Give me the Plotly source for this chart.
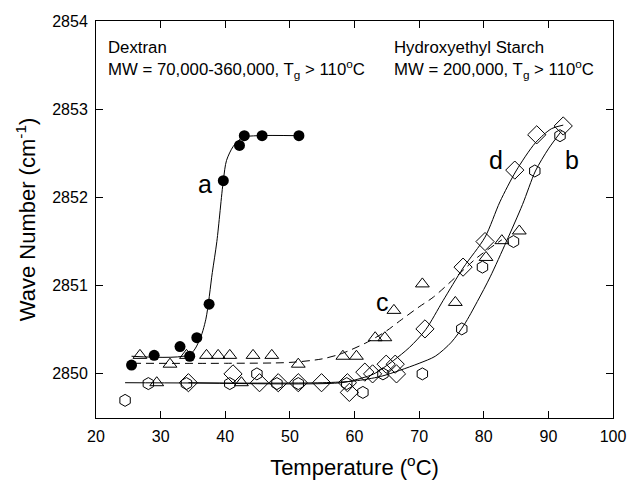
import plotly.graph_objects as go

# ---- data ----
# a: filled circles
a_x = [25.5, 29.0, 33.0, 34.5, 35.6, 37.5, 39.7, 42.2, 42.95, 45.7, 51.4]
a_y = [2850.10, 2850.21, 2850.31, 2850.20, 2850.41, 2850.79, 2852.19, 2852.59, 2852.70, 2852.70, 2852.70]
a_fit_x = [25.5, 34.5, 36.0, 37.0, 38.0, 38.7, 39.7, 40.2, 41.25, 42.7, 45.0, 51.4]
a_fit_y = [2850.20, 2850.22, 2850.38, 2850.62, 2851.15, 2851.50, 2852.19, 2852.42, 2852.58, 2852.68, 2852.70, 2852.70]

# b: open hexagons
b_x = [24.5, 28.1, 34.0, 40.7, 44.9, 48.0, 51.3, 58.8, 61.3, 64.4, 70.5, 76.6, 79.8, 84.6, 87.9, 91.8]
b_y = [2849.70, 2849.89, 2849.89, 2849.89, 2850.0, 2849.89, 2849.89, 2849.89, 2849.79, 2850.0,
       2850.0, 2850.51, 2851.21, 2851.5, 2852.30, 2852.70]
b_fit_x = [24.5, 55.0, 60.0, 64.0, 67.0, 70.0, 72.5, 75.0, 77.0, 79.0, 81.0, 83.5, 86.0, 88.0, 90.0, 92.0]
b_fit_y = [2849.90, 2849.90, 2849.92, 2849.97, 2850.04, 2850.12, 2850.20, 2850.36, 2850.56, 2850.82,
           2851.10, 2851.50, 2851.92, 2852.30, 2852.55, 2852.75]

# c: open triangles
c_x = [26.8, 29.4, 31.45, 34.0, 37.1, 38.9, 40.7, 42.5, 44.3, 47.2, 51.3, 58.2, 60.3, 63.2, 64.7,
       66.1, 70.5, 75.6, 80.35, 82.8, 85.5]
c_y = [2850.21, 2849.90, 2850.11, 2850.21, 2850.21, 2850.21, 2850.21, 2849.90, 2850.21, 2850.21,
       2850.11, 2850.20, 2850.20, 2850.41, 2850.41, 2850.72, 2851.02, 2850.81, 2851.32, 2851.51, 2851.62]
c_fit_x = [25.7, 40.0, 50.0, 55.0, 58.0, 62.0, 65.0, 67.0, 70.0, 72.2, 76.0, 79.0, 82.8]
c_fit_y = [2850.12, 2850.12, 2850.13, 2850.17, 2850.23, 2850.36, 2850.49, 2850.60, 2850.76, 2850.87,
           2851.12, 2851.32, 2851.52]

# d: open diamonds
d_x = [34.3, 41.2, 45.3, 48.2, 51.3, 54.9, 58.9, 59.2, 61.6, 62.8, 64.9, 66.3, 66.5, 70.9, 76.8,
       80.2, 84.8, 88.2, 92.3]
d_y = [2849.90, 2850.00, 2849.90, 2849.90, 2849.90, 2849.90, 2849.90, 2849.79, 2850.02, 2850.00,
       2850.11, 2850.11, 2850.00, 2850.51, 2851.21, 2851.50, 2852.31, 2852.71, 2852.81]
d_fit_x = [34.3, 58.0, 61.0, 63.0, 66.0, 68.5, 71.0, 73.7, 76.8, 80.2, 82.5, 85.0, 88.0, 90.5, 92.3]
d_fit_y = [2849.90, 2849.90, 2849.95, 2850.00, 2850.15, 2850.30, 2850.50, 2850.83, 2851.20, 2851.55,
           2851.95, 2852.30, 2852.62, 2852.78, 2852.82]

x_ticks = [20, 30, 40, 50, 60, 70, 80, 90, 100]
y_ticks = [2850, 2851, 2852, 2853, 2854]

curve_labels = ["a", "b", "c", "d"]
label_x = [36.9, 93.65, 64.4, 81.9]
label_y = [2852.15, 2852.43, 2850.81, 2852.43]

info_lines = ["Dextran",
              "MW = 70,000-360,000, T<sub>g</sub> > 110<sup>o</sup>C",
              "Hydroxyethyl Starch",
              "MW = 200,000, T<sub>g</sub> > 110<sup>o</sup>C"]

FONT = "Liberation Sans, Arial, sans-serif"

fig = go.Figure()

line_style = dict(color="black", width=1, shape="spline", smoothing=0.8)
fig.add_trace(go.Scatter(x=a_fit_x, y=a_fit_y, mode="lines", line=line_style, hoverinfo="skip"))
fig.add_trace(go.Scatter(x=b_fit_x, y=b_fit_y, mode="lines", line=line_style, hoverinfo="skip"))
fig.add_trace(go.Scatter(x=d_fit_x, y=d_fit_y, mode="lines", line=line_style, hoverinfo="skip"))
fig.add_trace(go.Scatter(x=c_fit_x, y=c_fit_y, mode="lines",
                         line=dict(color="black", width=1, dash="8px,5px", shape="spline", smoothing=0.8),
                         hoverinfo="skip"))

fig.add_trace(go.Scatter(x=b_x, y=b_y, mode="markers", name="b",
                         marker=dict(symbol="hexagon-open", size=12, color="black", line=dict(width=1))))
fig.add_trace(go.Scatter(x=d_x, y=d_y, mode="markers", name="d",
                         marker=dict(symbol="diamond-open", size=14, color="black", line=dict(width=1))))
fig.add_trace(go.Scatter(x=c_x, y=c_y, mode="markers", name="c",
                         marker=dict(symbol="triangle-up-open", size=12, color="black", line=dict(width=1))))
fig.add_trace(go.Scatter(x=a_x, y=a_y, mode="markers", name="a",
                         marker=dict(symbol="circle", size=11, color="black")))

for t, lx, ly in zip(curve_labels, label_x, label_y):
    fig.add_annotation(x=lx, y=ly, text=t, showarrow=False,
                       font=dict(family=FONT, size=25, color="black"))

info_x = [0.019, 0.019, 0.5725, 0.5725]
info_y = [0.932, 0.880, 0.932, 0.880]
for t, px, py in zip(info_lines, info_x, info_y):
    fig.add_annotation(x=px, y=py, xref="paper", yref="paper", xanchor="left", yanchor="middle",
                       align="left", showarrow=False, text=t,
                       font=dict(family=FONT, size=16.8, color="black"))

axis_common = dict(showline=True, linecolor="black", linewidth=1, mirror="ticks",
                   ticks="inside", ticklen=7, tickcolor="black", showgrid=False, zeroline=False,
                   automargin=False,
                   tickfont=dict(family=FONT, size=16, color="black"))

fig.update_xaxes(range=[20, 100], tickvals=x_ticks, ticktext=[str(v) for v in x_ticks],
                 ticklabelstandoff=4,
                 title=dict(text="Temperature (<sup>o</sup>C)", font=dict(family=FONT, size=22, color="black"),
                            standoff=22),
                 **axis_common)
fig.update_yaxes(range=[2849.5, 2854], tickvals=y_ticks, ticktext=[str(v) for v in y_ticks],
                 ticklabelstandoff=4,
                 title=dict(text="Wave Number (cm<sup>-1</sup>)", font=dict(family=FONT, size=22, color="black"),
                            standoff=10),
                 **axis_common)

fig.update_layout(width=628, height=480, margin=dict(l=96, r=15, t=21, b=62, autoexpand=False),
                  paper_bgcolor="white", plot_bgcolor="white", showlegend=False)

fig.write_html("out.html")
